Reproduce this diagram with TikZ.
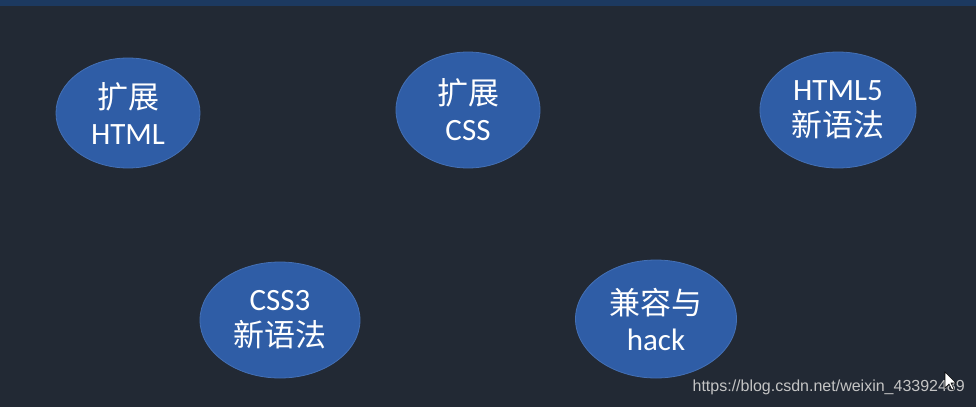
\documentclass[tikz,border=0pt]{standalone}
\usepackage{fontspec}
\usetikzlibrary{shapes.geometric}
\setmainfont{Carlito}
\newfontfamily\cjk{Noto Sans CJK SC}
\newfontfamily\wmfont{Liberation Sans}
\definecolor{bgc}{HTML}{222934}
\definecolor{bandc}{HTML}{1C3960}
\definecolor{ellfill}{HTML}{2F5DA6}
\definecolor{elldraw}{HTML}{4470B5}
\definecolor{wmc}{HTML}{C4C4C4}
\begin{document}
\begin{tikzpicture}[x=1pt,y=-1pt,
  topic/.style={ellipse, fill=ellfill, draw=elldraw, line width=0.8pt, text=white,
    align=center, inner sep=0pt, font=\fontsize{31}{36}\selectfont},
]
\useasboundingbox (0,0) rectangle (976,407);
\fill[bgc] (0,0) rectangle (976,407);
\fill[bandc] (0,0) rectangle (976,6);
\node[topic, minimum width=144pt, minimum height=110pt] (e1) at (128,113) {{\cjk 扩展}\\HTML};
\node[topic, minimum width=144pt, minimum height=116pt] (e2) at (468,110) {{\cjk 扩展}\\CSS};
\node[topic, minimum width=156pt, minimum height=116pt] (e3) at (838,110) {HTML5\\{\cjk 新语法}};
\node[topic, minimum width=160pt, minimum height=116pt] (e4) at (280,320) {CSS3\\{\cjk 新语法}};
\node[topic, minimum width=161pt, minimum height=118pt] (e5) at (656,319) {{\cjk 兼容与}\\hack};
\node[text=wmc, font=\wmfont\fontsize{16}{18}\selectfont, anchor=east, inner sep=0pt] (wm) at (965,387) {https://blog.csdn.net/weixin\_43392489};
\coordinate (cur) at (945,372);
\filldraw[fill=white, draw=black, line width=0.6pt] (cur) -- ++(0,16) -- ++(4,-4) -- ++(3,6) -- ++(2,-1) -- ++(-3,-6) -- ++(5,0) -- cycle;
\end{tikzpicture}
\end{document}
